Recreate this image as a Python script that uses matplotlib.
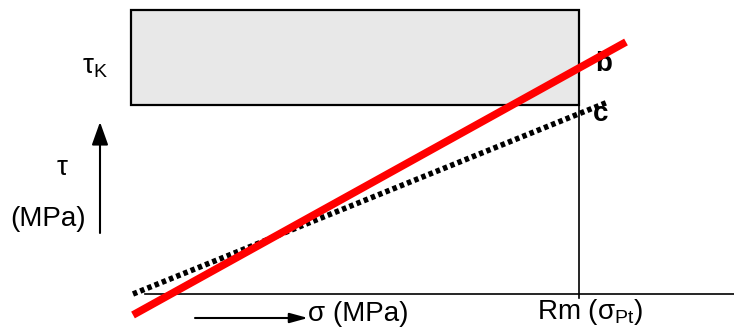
import matplotlib.pyplot as plt
from matplotlib.patches import Rectangle

plt.rcParams['font.family'] = ['Liberation Sans', 'DejaVu Sans']
plt.rcParams['mathtext.fontset'] = 'custom'
plt.rcParams['mathtext.rm'] = 'Liberation Sans'
plt.rcParams['mathtext.it'] = 'Liberation Sans'
plt.rcParams['mathtext.bf'] = 'Liberation Sans:bold'

# geometry of the sketch, in image pixels (y grows downwards)
box_x = [131, 579]
box_y = [10, 105]
axis_y = 294
rm_x = 579

line_b_x = [133, 626]
line_b_y = [315, 42]
line_c_x = [133, 608]
line_c_y = [294, 102]

fig = plt.figure(figsize=(7.34, 3.28), dpi=100)
ax = fig.add_axes([0, 0, 1, 1])
ax.set_xlim(0, 734)
ax.set_ylim(328, 0)
ax.axis("off")

# tau_K band
ax.add_patch(Rectangle((box_x[0], box_y[0]), box_x[1] - box_x[0], box_y[1] - box_y[0],
                       facecolor="#e8e8e8", edgecolor="black", linewidth=1.6, zorder=1))

# sigma axis and Rm marker
ax.plot([145, 734], [axis_y, axis_y], color="black", linewidth=1.2, zorder=2)
ax.plot([rm_x, rm_x], [box_y[1], axis_y + 4], color="black", linewidth=1.2, zorder=2)

# criteria lines
ax.plot(line_c_x, line_c_y, color="black", linewidth=4,
        linestyle=(0, (0.8, 0.6)), dash_capstyle="butt", zorder=3)
ax.plot(line_b_x, line_b_y, color="red", linewidth=5.5, solid_capstyle="butt", zorder=4)

# arrows
ax.annotate("", xy=(100, 122), xytext=(100, 233),
            arrowprops=dict(arrowstyle="-|>,head_length=0.7,head_width=0.25",
                            color="black", lw=1.5, mutation_scale=20, shrinkA=0, shrinkB=0))
ax.annotate("", xy=(308, 318), xytext=(195, 318),
            arrowprops=dict(arrowstyle="-|>,head_length=0.55,head_width=0.15",
                            color="black", lw=1.5, mutation_scale=20, shrinkA=0, shrinkB=0))

fs = 20
ax.text(82, 74, r"τ$_{\mathrm{K}}$", fontsize=fs, ha="left", va="baseline")
ax.text(62, 175, "τ", fontsize=fs, ha="center", va="baseline")
ax.text(48, 226, "(MPa)", fontsize=fs, ha="center", va="baseline")
ax.text(308, 321, "σ (MPa)", fontsize=fs, ha="left", va="baseline")
ax.text(537, 319, r"Rm (σ$_{\mathrm{Pt}}$)", fontsize=fs, ha="left", va="baseline")
ax.text(595, 71, "b", fontsize=fs, fontweight="bold", ha="left", va="baseline")
ax.text(593, 121, "c", fontsize=fs, fontweight="bold", ha="left", va="baseline")

fig.savefig("out.png", dpi=100)
